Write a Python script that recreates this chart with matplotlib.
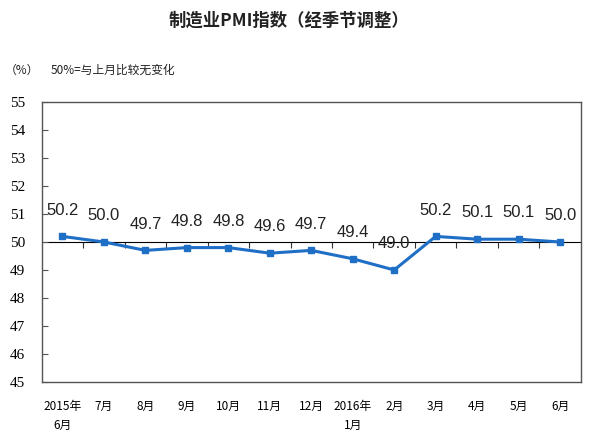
import matplotlib
matplotlib.use("Agg")
import matplotlib.pyplot as plt

# 数据
months = ["2015年\n6月", "7月", "8月", "9月", "10月", "11月", "12月",
          "2016年\n1月", "2月", "3月", "4月", "5月", "6月"]
pmi = [50.2, 50.0, 49.7, 49.8, 49.8, 49.6, 49.7, 49.4, 49.0, 50.2, 50.1, 50.1, 50.0]
yticks = [45, 46, 47, 48, 49, 50, 51, 52, 53, 54, 55]

cjk = ["Noto Sans CJK SC", "DejaVu Sans"]
line_color = "#1f6fc6"

fig = plt.figure(figsize=(6.05, 4.38), dpi=100)
ax = fig.add_axes([0.069, 0.128, 0.891, 0.639])

x = list(range(len(pmi)))
ax.plot(x, pmi, color=line_color, lw=2.2, marker="s", ms=5, zorder=3)

for xi, v in zip(x, pmi):
    ax.annotate(f"{v:.1f}", (xi, v), xytext=(0, 19), textcoords="offset points",
                ha="center", va="center", fontsize=12,
                family="Liberation Sans", color="#222222")

ax.set_xlim(-0.5, len(pmi) - 0.5)
ax.set_ylim(45, 55)
ax.set_yticks(yticks)
ax.set_yticklabels([str(t) for t in yticks], family="Liberation Serif", fontsize=11)
ax.tick_params(axis="y", direction="in", length=4, pad=12, color="#555555")
ax.set_xticks(x)
ax.set_xticklabels(months, family=cjk, fontsize=8.5, linespacing=1.6, va="top")
ax.tick_params(axis="x", length=0, pad=13)
for s in ax.spines.values():
    s.set_color("#555555")
    s.set_linewidth(1)

# 50% 基准线, 带类别分隔刻度
sec = ax.secondary_xaxis(0.5)
sec.set_xticks([i + 0.5 for i in range(len(pmi) - 1)])
sec.set_xticklabels([])
sec.tick_params(direction="in", length=4, color="#333333")
sec.spines["bottom"].set_color("#333333")
sec.spines["bottom"].set_linewidth(1)

fig.text(0.478, 0.952, "制造业PMI指数（经季节调整）", ha="center", va="center",
         family=cjk, fontsize=12.5, fontweight="bold", color="#222222")
fig.text(0.008, 0.84, "（%）", ha="left", va="center", family=cjk, fontsize=8.5, color="#222222")
fig.text(0.084, 0.84, "50%=与上月比较无变化", ha="left", va="center", family=cjk,
         fontsize=8.5, color="#222222")

fig.savefig("out.png", dpi=100)
